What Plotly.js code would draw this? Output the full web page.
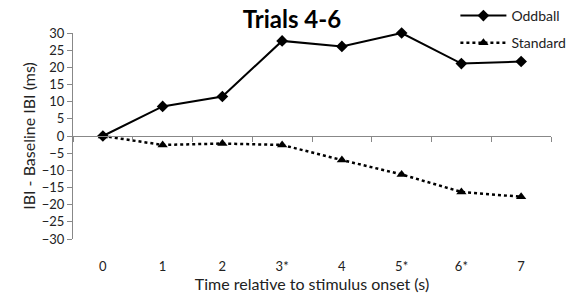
<!DOCTYPE html>
<html>
<head>
<meta charset="utf-8">
<script src="https://cdn.plot.ly/plotly-3.0.1.min.js"></script>
<style>html,body{margin:0;padding:0;background:#fff;}#chart{width:577px;height:301px;}</style>
</head>
<body>
<div id="chart"></div>
<script>
const timeIdx = [0, 1, 2, 3, 4, 5, 6, 7];
const timeLabels = ["0", "1", "2", "3*", "4", "5*", "6*", "7"];
const oddball = [0, 8.6, 11.5, 27.7, 26.1, 30.0, 21.1, 21.7];
const standard = [0, -2.6, -2.2, -2.6, -7.0, -11.2, -16.3, -17.7];
const yTicks = [30, 25, 20, 15, 10, 5, 0, -5, -10, -15, -20, -25, -30];

const font = "Lato, 'Open Sans', sans-serif";
const traces = [
  {x: timeIdx, y: oddball, name: "Oddball", type: "scatter", mode: "lines+markers", legendgroup: "a",
   cliponaxis: false,
   line: {color: "#000", width: 2}, marker: {symbol: "diamond", size: 9, color: "#000"}},
  {x: timeIdx, y: standard, name: "Standard", type: "scatter", mode: "lines+markers", legendgroup: "b",
   cliponaxis: false,
   line: {color: "#000", width: 2.5, dash: "dot"}, marker: {symbol: "triangle-up", size: 9, color: "#000"}},
  {x: timeIdx, y: standard, xaxis: "x2", type: "scatter", mode: "lines", opacity: 0,
   showlegend: false, hoverinfo: "skip", line: {width: 0}}
];
const boundaries = timeIdx.map(v => v - 0.5).concat([timeIdx[timeIdx.length-1] + 0.5]);
const layout = {
  width: 577, height: 301,
  margin: {l: 73, r: 26, t: 33, b: 62, autoexpand: false},
  paper_bgcolor: "#fff", plot_bgcolor: "#fff",
  font: {family: font, color: "#222", size: 13},
  title: {text: "<b>Trials 4-6</b>", font: {family: font, size: 24, color: "#000"},
          x: 0.506, xref: "container", xanchor: "center", y: 0.935, yanchor: "middle"},
  showlegend: true,
  legend: {x: 0.8, y: 1.0, xanchor: "left", yanchor: "top", xref: "paper", yref: "container",
           itemwidth: 46,
           font: {family: font, size: 14, color: "#222"}, bgcolor: "rgba(0,0,0,0)", tracegroupgap: 6},
  xaxis: {range: [-0.5, 7.5], tickvals: timeIdx, ticktext: timeLabels, showline: false,
          showgrid: false, zeroline: false, ticks: "outside", ticklen: 15, tickcolor: "rgba(0,0,0,0)",
          tickfont: {size: 13, color: "#222"},
          title: {text: "Time relative to stimulus onset (s)", font: {size: 16, color: "#222"}, standoff: 3}},
  xaxis2: {range: [-0.5, 7.5], overlaying: "x", anchor: "free", position: 0.5, side: "bottom",
           tickvals: boundaries, showticklabels: false, ticks: "outside", ticklen: 5,
           tickcolor: "#888", showline: true, linecolor: "#888", linewidth: 1,
           showgrid: false, zeroline: false},
  yaxis: {range: [-30, 30], tickvals: yTicks, showline: true, linecolor: "#888", linewidth: 1,
          ticks: "outside", ticklen: 5, tickcolor: "#888", showgrid: false, zeroline: false,
          tickfont: {size: 13, color: "#222"},
          title: {text: "IBI - Baseline IBI (ms)", font: {size: 16, color: "#222"}, standoff: 2}}
};
Plotly.newPlot("chart", traces, layout, {displayModeBar: false, staticPlot: true});
</script>
</body>
</html>
